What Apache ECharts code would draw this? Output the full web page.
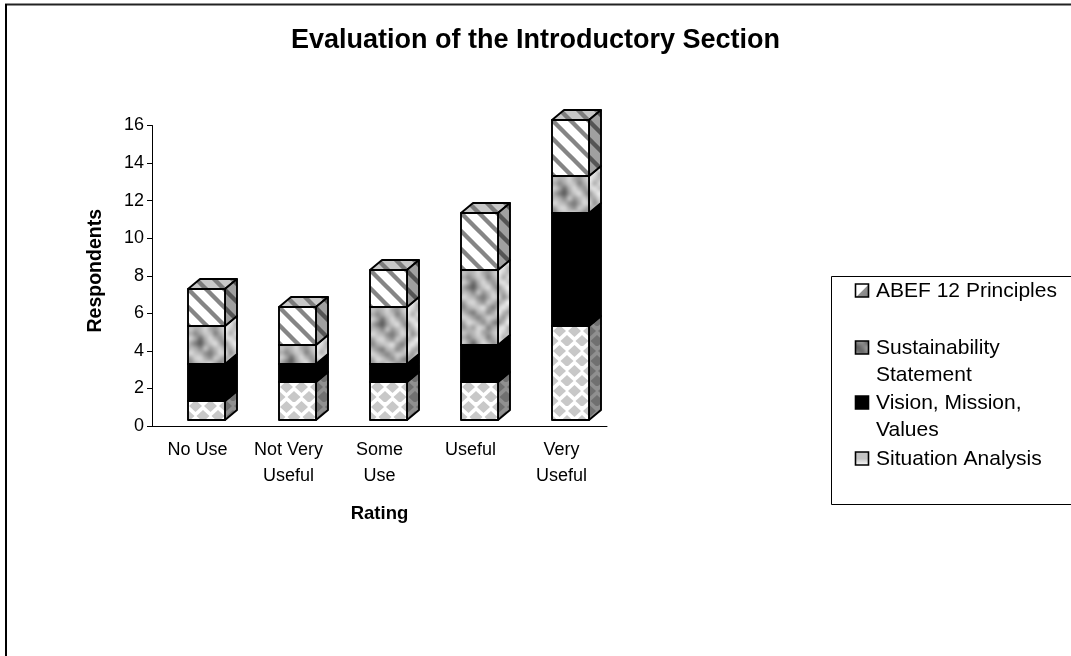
<!DOCTYPE html>
<html>
<head>
<meta charset="utf-8">
<style>html,body{margin:0;padding:0;background:#fff}#chart{width:1071px;height:656px}</style>
<script src="https://cdn.jsdelivr.net/npm/echarts@6/dist/echarts.min.js"></script>
</head>
<body>
<div id="chart"></div>
<script>
// Survey results: how respondents rated each part of the introductory section.
const categories = ['No Use', 'Not Very\nUseful', 'Some\nUse', 'Useful', 'Very\nUseful'];
const situationAnalysis = [1, 2, 2, 2, 5];
const visionMissionValues = [2, 1, 1, 2, 6];
const sustainabilityStatement = [2, 1, 3, 4, 2];
const abefPrinciples = [2, 2, 2, 3, 3];
const yTicks = { min: 0, max: 16, interval: 2 };
const legendRows = [
  { name: 'ABEF 12 Principles', lines: ['ABEF 12 Principles'] },
  { name: 'Sustainability Statement', lines: ['Sustainability', 'Statement'] },
  { name: 'Vision, Mission, Values', lines: ['Vision, Mission,', 'Values'] },
  { name: 'Situation Analysis', lines: ['Situation Analysis'] }
];

const FONT = '"Liberation Sans", Arial, sans-serif';
const DEPTH_X = 12, DEPTH_Y = -10, SHIFT_X = 9, SHIFT_Y = -6, BAR_WIDTH = 37;

function tile(w, h, draw) {
  const c = document.createElement('canvas');
  c.width = w; c.height = h;
  draw(c.getContext('2d'), w, h);
  return { image: c, repeat: 'repeat' };
}

// Diagonal hatch running from upper left to lower right.
function stripes(bg, fg) {
  return tile(18, 18, (g, w, h) => {
    g.fillStyle = bg; g.fillRect(0, 0, w, h);
    g.strokeStyle = fg; g.lineWidth = 4.4;
    for (let i = -2; i <= 2; i++) {
      g.beginPath(); g.moveTo(i * w - w, -w); g.lineTo(i * w + 2 * w, 2 * w); g.stroke();
    }
  });
}

// Staggered diamonds.
function diamonds(bg, fg) {
  return tile(15, 20, (g, w, h) => {
    g.fillStyle = bg; g.fillRect(0, 0, w, h);
    g.fillStyle = fg;
    const d = (x, y) => {
      g.beginPath();
      g.moveTo(x - 6.5, y); g.lineTo(x, y - 6); g.lineTo(x + 6.5, y); g.lineTo(x, y + 6);
      g.closePath(); g.fill();
    };
    [[7.5, 5], [0, 15], [15, 15], [7.5, 25], [7.5, -5]].forEach(p => d(p[0], p[1]));
  });
}

// Cloudy grey texture, enlarged from a small table of shades.
const cloudShades = [
  [206, 176, 190, 222, 168, 150, 200, 226, 186, 160, 204, 178],
  [182, 140, 170, 210, 196, 128, 176, 214, 150, 196, 226, 146],
  [218, 166, 104, 178, 226, 184, 148, 190, 208, 172, 138, 192],
  [170, 120, 84, 160, 206, 232, 168, 124, 180, 222, 178, 212],
  [198, 176, 136, 200, 152, 190, 216, 164, 140, 198, 160, 128],
  [228, 204, 188, 144, 118, 172, 226, 200, 118, 166, 212, 186],
  [160, 216, 226, 178, 150, 208, 180, 144, 176, 228, 190, 150],
  [136, 176, 198, 214, 232, 164, 126, 186, 214, 170, 112, 176],
  [188, 148, 122, 184, 196, 142, 174, 226, 156, 130, 168, 220],
  [224, 200, 160, 132, 170, 214, 202, 170, 122, 192, 216, 196],
  [170, 228, 210, 176, 146, 188, 138, 112, 160, 224, 180, 142],
  [146, 186, 168, 224, 204, 130, 170, 196, 212, 150, 128, 200]
];
function clouds(lift) {
  const n = cloudShades.length;
  const small = document.createElement('canvas');
  small.width = small.height = n + 2;
  const sg = small.getContext('2d');
  for (let y = -1; y <= n; y++) {
    for (let x = -1; x <= n; x++) {
      const shade = 180 + (cloudShades[(y + n) % n][(x + n) % n] - 180) * 0.85;
      const s = Math.round(Math.min(255, shade + lift));
      sg.fillStyle = `rgb(${s},${s},${s})`;
      sg.fillRect(x + 1, y + 1, 1, 1);
    }
  }
  return tile(n * 5, n * 5, (g, w, h) => {
    g.imageSmoothingEnabled = true;
    g.imageSmoothingQuality = 'high';
    g.drawImage(small, 1, 1, n, n, 0, 0, w, h);
  });
}

const layers = [
  { name: 'Situation Analysis', values: situationAnalysis,
    front: diamonds('#ffffff', '#c8c8c8'), side: diamonds('#909090', '#707070'), top: diamonds('#c0c0c0', '#909090') },
  { name: 'Vision, Mission, Values', values: visionMissionValues,
    front: '#000000', side: '#000000', top: '#000000' },
  { name: 'Sustainability Statement', values: sustainabilityStatement,
    front: clouds(-4), side: clouds(22), top: clouds(0) },
  { name: 'ABEF 12 Principles', values: abefPrinciples,
    front: stripes('#ffffff', '#858585'), side: stripes('#a0a0a0', '#555555'), top: stripes('#c8c8c8', '#7c7c7c') }
];

// Each segment spans from the running total below it to the total including it.
const running = categories.map(() => 0);
const series = layers.map(layer => {
  const data = layer.values.map((v, i) => {
    const item = [i, running[i], running[i] + v];
    running[i] += v;
    return item;
  });
  return {
    type: 'custom',
    name: layer.name,
    data,
    encode: { x: 0, y: [1, 2] },
    clip: false,
    renderItem(params, api) {
      const base = api.coord([api.value(0), api.value(1)]);
      const tip = api.coord([api.value(0), api.value(2)]);
      const x = Math.round(base[0] + SHIFT_X - BAR_WIDTH / 2);
      const y = Math.round(tip[1] + SHIFT_Y);
      const h = Math.round(base[1] + SHIFT_Y) - y;
      const edge = { stroke: '#000', lineWidth: 1.9, lineJoin: 'round' };
      const poly = (points, fill) => ({
        type: 'polygon', x, y, shape: { points },
        style: Object.assign({ fill }, edge)
      });
      return {
        type: 'group',
        children: [
          poly([[0, 0], [BAR_WIDTH, 0], [BAR_WIDTH + DEPTH_X, DEPTH_Y], [DEPTH_X, DEPTH_Y]], layer.top),
          poly([[BAR_WIDTH, 0], [BAR_WIDTH + DEPTH_X, DEPTH_Y], [BAR_WIDTH + DEPTH_X, h + DEPTH_Y], [BAR_WIDTH, h]], layer.side),
          poly([[0, 0], [BAR_WIDTH, 0], [BAR_WIDTH, h], [0, h]], layer.front)
        ]
      };
    }
  };
});

// Legend box: keys sit beside the first line of their wrapped labels.
const swatches = {
  'ABEF 12 Principles': { type: 'linear', x: 0, y: 0, x2: 1, y2: 1,
    colorStops: [{ offset: 0, color: '#ffffff' }, { offset: 0.5, color: '#ffffff' }, { offset: 0.55, color: '#909090' }, { offset: 1, color: '#808080' }] },
  'Sustainability Statement': clouds(-50),
  'Vision, Mission, Values': '#000000',
  'Situation Analysis': { type: 'linear', x: 0, y: 0, x2: 0, y2: 1,
    colorStops: [{ offset: 0, color: '#c4c4c4' }, { offset: 0.5, color: '#c4c4c4' }, { offset: 1, color: '#ffffff' }] }
};
const legendTops = [290, 347, 402, 458];
const legendGraphic = [
  { type: 'rect', shape: { x: 831.5, y: 276.5, width: 260, height: 228 },
    style: { fill: '#fff', stroke: '#000', lineWidth: 1 } }
];
legendRows.forEach((row, i) => {
  const cy = legendTops[i];
  legendGraphic.push({
    type: 'rect', shape: { x: 855.5, y: cy - 6, width: 13, height: 13 },
    style: { fill: swatches[row.name], stroke: '#000', lineWidth: 1.6 }
  });
  row.lines.forEach((line, j) => legendGraphic.push({
    type: 'text', x: 876, y: cy + 1 + j * 27,
    style: { text: line, font: '21px ' + FONT, fill: '#000', verticalAlign: 'middle' }
  }));
});

// Outer frame: only the top and left edges lie inside the page.
const frameGraphic = [
  { type: 'line', shape: { x1: 5, y1: 4.5, x2: 1071, y2: 4.5 }, style: { stroke: '#222', lineWidth: 2 } },
  { type: 'line', shape: { x1: 6, y1: 4, x2: 6, y2: 656 }, style: { stroke: '#000', lineWidth: 2 } }
];

const chart = echarts.init(document.getElementById('chart'), null, { renderer: 'canvas' });
chart.setOption({
  backgroundColor: '#fff',
  animation: false,
  title: {
    text: 'Evaluation of the Introductory Section',
    left: 'center', top: 22,
    textStyle: { fontFamily: FONT, fontWeight: 'bold', fontSize: 27, color: '#000' }
  },
  grid: { left: 152, right: 464, top: 125.5, bottom: 230 },
  xAxis: {
    type: 'category',
    data: categories,
    name: 'Rating', nameLocation: 'middle', nameGap: 78,
    nameTextStyle: { fontFamily: FONT, fontWeight: 'bold', fontSize: 18.5, color: '#000' },
    axisLine: { lineStyle: { color: '#000', width: 1 } },
    axisTick: { length: 5, lineStyle: { color: '#000' }, alignWithLabel: false },
    axisLabel: { fontFamily: FONT, fontSize: 18, color: '#000', lineHeight: 26, margin: 11, interval: 0 }
  },
  yAxis: {
    type: 'value',
    min: yTicks.min, max: yTicks.max, interval: yTicks.interval,
    name: 'Respondents', nameLocation: 'middle', nameGap: 46, nameRotate: 90,
    nameTextStyle: { fontFamily: FONT, fontWeight: 'bold', fontSize: 19.5, color: '#000', padding: [0, 0, 0, 10] },
    splitLine: { show: false },
    axisLine: { show: true, lineStyle: { color: '#000', width: 1 } },
    axisTick: { show: true, length: 5, lineStyle: { color: '#000' } },
    axisLabel: { fontFamily: FONT, fontSize: 18, color: '#000', margin: 8 }
  },
  series,
  graphic: { elements: frameGraphic.concat(legendGraphic) }
});
</script>
</body>
</html>
